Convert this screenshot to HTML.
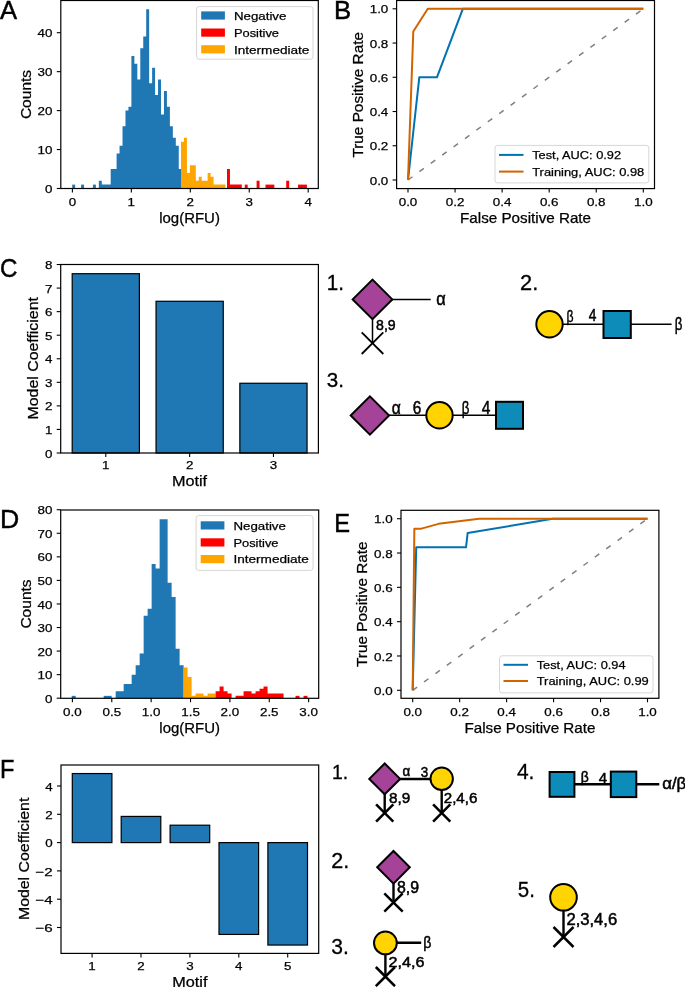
<!DOCTYPE html>
<html><head><meta charset="utf-8"><style>
html,body{margin:0;padding:0;background:#fff;width:685px;height:987px;overflow:hidden}
svg{display:block;font-family:"Liberation Sans",sans-serif;will-change:transform;filter:blur(0.3px)}
</style></head><body>
<svg width="685" height="987" viewBox="0 0 685 987">
<rect x="0" y="0" width="685" height="987" fill="#fff"/>
<text x="0.00" y="19.00" font-size="25.0" text-anchor="start" textLength="17.10" lengthAdjust="spacingAndGlyphs" fill="#000" stroke="#000" stroke-width="0.45" >A</text>
<path d="M72.20,188.50 L72.20,184.60 L75.16,184.60 L75.16,188.50 Z" fill="#1f77b4"/>
<path d="M81.08,188.50 L81.08,184.60 L84.04,184.60 L84.04,188.50 Z" fill="#1f77b4"/>
<path d="M92.92,188.50 L92.92,184.60 L95.88,184.60 L95.88,188.50 Z" fill="#1f77b4"/>
<path d="M98.84,188.50 L98.84,180.71 L101.80,180.71 L101.80,184.60 L104.76,184.60 L104.76,184.60 L107.72,184.60 L107.72,184.60 L110.68,184.60 L110.68,169.03 L113.64,169.03 L113.64,169.03 L116.60,169.03 L116.60,153.44 L119.56,153.44 L119.56,145.66 L122.52,145.66 L122.52,126.18 L125.48,126.18 L125.48,110.60 L128.44,110.60 L128.44,106.70 L131.40,106.70 L131.40,56.07 L134.36,56.07 L134.36,63.86 L137.32,63.86 L137.32,79.44 L140.28,79.44 L140.28,48.28 L143.24,48.28 L143.24,36.59 L146.20,36.59 L146.20,9.33 L149.16,9.33 L149.16,83.33 L152.12,83.33 L152.12,67.75 L155.08,67.75 L155.08,95.02 L158.04,95.02 L158.04,79.44 L161.00,79.44 L161.00,114.50 L163.96,114.50 L163.96,91.12 L166.92,91.12 L166.92,106.70 L169.88,106.70 L169.88,126.18 L172.84,126.18 L172.84,137.87 L175.80,137.87 L175.80,145.66 L178.76,145.66 L178.76,169.03 L181.72,169.03 L181.72,188.50 Z" fill="#1f77b4"/>
<path d="M181.00,188.50 L181.00,141.76 L183.96,141.76 L183.96,137.87 L186.92,137.87 L186.92,172.92 L189.88,172.92 L189.88,165.13 L192.84,165.13 L192.84,165.13 L195.80,165.13 L195.80,180.71 L198.76,180.71 L198.76,176.81 L201.72,176.81 L201.72,180.71 L204.68,180.71 L204.68,180.71 L207.64,180.71 L207.64,172.92 L210.60,172.92 L210.60,176.81 L213.56,176.81 L213.56,184.60 L216.52,184.60 L216.52,184.60 L219.48,184.60 L219.48,184.60 L222.44,184.60 L222.44,184.60 L225.40,184.60 L225.40,188.50 Z" fill="#ffa500"/>
<path d="M227.00,188.50 L227.00,169.03 L229.96,169.03 L229.96,184.60 L232.92,184.60 L232.92,184.60 L235.88,184.60 L235.88,184.60 L238.84,184.60 L238.84,184.60 L241.80,184.60 L241.80,188.50 Z" fill="#ff0000"/>
<path d="M244.76,188.50 L244.76,184.60 L247.72,184.60 L247.72,188.50 Z" fill="#ff0000"/>
<path d="M256.60,188.50 L256.60,180.71 L259.56,180.71 L259.56,188.50 Z" fill="#ff0000"/>
<path d="M265.48,188.50 L265.48,184.60 L268.44,184.60 L268.44,184.60 L271.40,184.60 L271.40,184.60 L274.36,184.60 L274.36,188.50 Z" fill="#ff0000"/>
<path d="M286.20,188.50 L286.20,180.71 L289.16,180.71 L289.16,188.50 Z" fill="#ff0000"/>
<path d="M298.04,188.50 L298.04,184.60 L301.00,184.60 L301.00,184.60 L303.96,184.60 L303.96,184.60 L306.92,184.60 L306.92,188.50 Z" fill="#ff0000"/>
<rect x="196.60" y="6.60" width="116.40" height="52.60" rx="2.5" fill="#fff" fill-opacity="0.8" stroke="#d6d6d6" stroke-width="1"/>
<rect x="201.20" y="11.40" width="23.7" height="8.2" fill="#1f77b4"/>
<text x="233.90" y="19.80" font-size="11.7" text-anchor="start" textLength="52.51" lengthAdjust="spacingAndGlyphs" fill="#000" stroke="#000" stroke-width="0.25" >Negative</text>
<rect x="201.20" y="28.50" width="23.7" height="8.2" fill="#ff0000"/>
<text x="233.90" y="36.90" font-size="11.7" text-anchor="start" textLength="45.10" lengthAdjust="spacingAndGlyphs" fill="#000" stroke="#000" stroke-width="0.25" >Positive</text>
<rect x="201.20" y="45.20" width="23.7" height="8.2" fill="#ffa500"/>
<text x="233.90" y="53.60" font-size="11.7" text-anchor="start" textLength="75.49" lengthAdjust="spacingAndGlyphs" fill="#000" stroke="#000" stroke-width="0.25" >Intermediate</text>
<rect x="60.80" y="0.50" width="257.50" height="188.00" fill="none" stroke="#000" stroke-width="1.2"/>
<line x1="56.80" y1="188.50" x2="60.80" y2="188.50" stroke="#000" stroke-width="1.1"/>
<text x="52.50" y="193.10" font-size="11.7" text-anchor="end" textLength="7.44" lengthAdjust="spacingAndGlyphs" fill="#000" stroke="#000" stroke-width="0.25" >0</text>
<line x1="56.80" y1="149.55" x2="60.80" y2="149.55" stroke="#000" stroke-width="1.1"/>
<text x="52.50" y="154.15" font-size="11.7" text-anchor="end" textLength="14.89" lengthAdjust="spacingAndGlyphs" fill="#000" stroke="#000" stroke-width="0.25" >10</text>
<line x1="56.80" y1="110.60" x2="60.80" y2="110.60" stroke="#000" stroke-width="1.1"/>
<text x="52.50" y="115.20" font-size="11.7" text-anchor="end" textLength="14.89" lengthAdjust="spacingAndGlyphs" fill="#000" stroke="#000" stroke-width="0.25" >20</text>
<line x1="56.80" y1="71.65" x2="60.80" y2="71.65" stroke="#000" stroke-width="1.1"/>
<text x="52.50" y="76.25" font-size="11.7" text-anchor="end" textLength="14.89" lengthAdjust="spacingAndGlyphs" fill="#000" stroke="#000" stroke-width="0.25" >30</text>
<line x1="56.80" y1="32.70" x2="60.80" y2="32.70" stroke="#000" stroke-width="1.1"/>
<text x="52.50" y="37.30" font-size="11.7" text-anchor="end" textLength="14.89" lengthAdjust="spacingAndGlyphs" fill="#000" stroke="#000" stroke-width="0.25" >40</text>
<line x1="72.40" y1="188.50" x2="72.40" y2="192.50" stroke="#000" stroke-width="1.1"/>
<text x="72.40" y="205.90" font-size="11.7" text-anchor="middle" textLength="7.44" lengthAdjust="spacingAndGlyphs" fill="#000" stroke="#000" stroke-width="0.25" >0</text>
<line x1="131.35" y1="188.50" x2="131.35" y2="192.50" stroke="#000" stroke-width="1.1"/>
<text x="131.35" y="205.90" font-size="11.7" text-anchor="middle" textLength="7.44" lengthAdjust="spacingAndGlyphs" fill="#000" stroke="#000" stroke-width="0.25" >1</text>
<line x1="190.30" y1="188.50" x2="190.30" y2="192.50" stroke="#000" stroke-width="1.1"/>
<text x="190.30" y="205.90" font-size="11.7" text-anchor="middle" textLength="7.44" lengthAdjust="spacingAndGlyphs" fill="#000" stroke="#000" stroke-width="0.25" >2</text>
<line x1="249.25" y1="188.50" x2="249.25" y2="192.50" stroke="#000" stroke-width="1.1"/>
<text x="249.25" y="205.90" font-size="11.7" text-anchor="middle" textLength="7.44" lengthAdjust="spacingAndGlyphs" fill="#000" stroke="#000" stroke-width="0.25" >3</text>
<line x1="308.20" y1="188.50" x2="308.20" y2="192.50" stroke="#000" stroke-width="1.1"/>
<text x="308.20" y="205.90" font-size="11.7" text-anchor="middle" textLength="7.44" lengthAdjust="spacingAndGlyphs" fill="#000" stroke="#000" stroke-width="0.25" >4</text>
<text x="189.55" y="222.50" font-size="14.1" text-anchor="middle" textLength="60.72" lengthAdjust="spacingAndGlyphs" fill="#000" stroke="#000" stroke-width="0.25" >log(RFU)</text>
<text transform="translate(31.30,94.50) rotate(-90)" x="0" y="0" font-size="14.1" text-anchor="middle" textLength="49.22" lengthAdjust="spacingAndGlyphs" stroke="#000" stroke-width="0.25">Counts</text>
<text x="334.00" y="19.00" font-size="25.0" text-anchor="start" textLength="17.15" lengthAdjust="spacingAndGlyphs" fill="#000" stroke="#000" stroke-width="0.45" >B</text>
<polyline points="408.00,180.00 643.30,8.80" fill="none" stroke="#808080" stroke-width="1.5" stroke-linejoin="round" stroke-linecap="butt" stroke-dasharray="5.5,8.6"/>
<polyline points="408.00,180.00 419.29,77.28 436.94,77.28 462.82,8.80 643.30,8.80" fill="none" stroke="#0072b2" stroke-width="2" stroke-linejoin="round" stroke-linecap="butt"/>
<polyline points="408.00,180.00 413.29,31.57 427.77,8.80 643.30,8.80" fill="none" stroke="#d26400" stroke-width="2" stroke-linejoin="round" stroke-linecap="butt"/>
<rect x="495.00" y="145.40" width="153.80" height="37.50" rx="2.5" fill="#fff" fill-opacity="0.8" stroke="#d6d6d6" stroke-width="1"/>
<line x1="499.00" y1="154.90" x2="523.50" y2="154.90" stroke="#0072b2" stroke-width="2"/>
<text x="532.20" y="159.10" font-size="11.7" text-anchor="start" textLength="88.92" lengthAdjust="spacingAndGlyphs" fill="#000" stroke="#000" stroke-width="0.25" >Test, AUC: 0.92</text>
<line x1="499.00" y1="171.60" x2="523.50" y2="171.60" stroke="#d26400" stroke-width="2"/>
<text x="532.20" y="175.80" font-size="11.7" text-anchor="start" textLength="112.05" lengthAdjust="spacingAndGlyphs" fill="#000" stroke="#000" stroke-width="0.25" >Training, AUC: 0.98</text>
<rect x="396.60" y="0.50" width="257.90" height="188.10" fill="none" stroke="#000" stroke-width="1.2"/>
<line x1="392.60" y1="180.00" x2="396.60" y2="180.00" stroke="#000" stroke-width="1.1"/>
<text x="388.30" y="184.60" font-size="11.7" text-anchor="end" textLength="18.61" lengthAdjust="spacingAndGlyphs" fill="#000" stroke="#000" stroke-width="0.25" >0.0</text>
<line x1="392.60" y1="145.76" x2="396.60" y2="145.76" stroke="#000" stroke-width="1.1"/>
<text x="388.30" y="150.36" font-size="11.7" text-anchor="end" textLength="18.61" lengthAdjust="spacingAndGlyphs" fill="#000" stroke="#000" stroke-width="0.25" >0.2</text>
<line x1="392.60" y1="111.52" x2="396.60" y2="111.52" stroke="#000" stroke-width="1.1"/>
<text x="388.30" y="116.12" font-size="11.7" text-anchor="end" textLength="18.61" lengthAdjust="spacingAndGlyphs" fill="#000" stroke="#000" stroke-width="0.25" >0.4</text>
<line x1="392.60" y1="77.28" x2="396.60" y2="77.28" stroke="#000" stroke-width="1.1"/>
<text x="388.30" y="81.88" font-size="11.7" text-anchor="end" textLength="18.61" lengthAdjust="spacingAndGlyphs" fill="#000" stroke="#000" stroke-width="0.25" >0.6</text>
<line x1="392.60" y1="43.04" x2="396.60" y2="43.04" stroke="#000" stroke-width="1.1"/>
<text x="388.30" y="47.64" font-size="11.7" text-anchor="end" textLength="18.61" lengthAdjust="spacingAndGlyphs" fill="#000" stroke="#000" stroke-width="0.25" >0.8</text>
<line x1="392.60" y1="8.80" x2="396.60" y2="8.80" stroke="#000" stroke-width="1.1"/>
<text x="388.30" y="13.40" font-size="11.7" text-anchor="end" textLength="18.61" lengthAdjust="spacingAndGlyphs" fill="#000" stroke="#000" stroke-width="0.25" >1.0</text>
<line x1="408.00" y1="188.60" x2="408.00" y2="192.60" stroke="#000" stroke-width="1.1"/>
<text x="408.00" y="206.00" font-size="11.7" text-anchor="middle" textLength="18.61" lengthAdjust="spacingAndGlyphs" fill="#000" stroke="#000" stroke-width="0.25" >0.0</text>
<line x1="455.06" y1="188.60" x2="455.06" y2="192.60" stroke="#000" stroke-width="1.1"/>
<text x="455.06" y="206.00" font-size="11.7" text-anchor="middle" textLength="18.61" lengthAdjust="spacingAndGlyphs" fill="#000" stroke="#000" stroke-width="0.25" >0.2</text>
<line x1="502.12" y1="188.60" x2="502.12" y2="192.60" stroke="#000" stroke-width="1.1"/>
<text x="502.12" y="206.00" font-size="11.7" text-anchor="middle" textLength="18.61" lengthAdjust="spacingAndGlyphs" fill="#000" stroke="#000" stroke-width="0.25" >0.4</text>
<line x1="549.18" y1="188.60" x2="549.18" y2="192.60" stroke="#000" stroke-width="1.1"/>
<text x="549.18" y="206.00" font-size="11.7" text-anchor="middle" textLength="18.61" lengthAdjust="spacingAndGlyphs" fill="#000" stroke="#000" stroke-width="0.25" >0.6</text>
<line x1="596.24" y1="188.60" x2="596.24" y2="192.60" stroke="#000" stroke-width="1.1"/>
<text x="596.24" y="206.00" font-size="11.7" text-anchor="middle" textLength="18.61" lengthAdjust="spacingAndGlyphs" fill="#000" stroke="#000" stroke-width="0.25" >0.8</text>
<line x1="643.30" y1="188.60" x2="643.30" y2="192.60" stroke="#000" stroke-width="1.1"/>
<text x="643.30" y="206.00" font-size="11.7" text-anchor="middle" textLength="18.61" lengthAdjust="spacingAndGlyphs" fill="#000" stroke="#000" stroke-width="0.25" >1.0</text>
<text x="525.55" y="222.90" font-size="14.1" text-anchor="middle" textLength="131.04" lengthAdjust="spacingAndGlyphs" fill="#000" stroke="#000" stroke-width="0.25" >False Positive Rate</text>
<text transform="translate(363.10,94.80) rotate(-90)" x="0" y="0" font-size="14.1" text-anchor="middle" textLength="125.60" lengthAdjust="spacingAndGlyphs" stroke="#000" stroke-width="0.25">True Positive Rate</text>
<text x="0.00" y="277.40" font-size="25.0" text-anchor="start" textLength="17.46" lengthAdjust="spacingAndGlyphs" fill="#000" stroke="#000" stroke-width="0.45" >C</text>
<rect x="72.20" y="273.71" width="67.2" height="179.29" fill="#1f77b4" stroke="#000" stroke-width="1.2"/>
<rect x="156.05" y="301.27" width="67.2" height="151.73" fill="#1f77b4" stroke="#000" stroke-width="1.2"/>
<rect x="239.85" y="383.26" width="67.2" height="69.74" fill="#1f77b4" stroke="#000" stroke-width="1.2"/>
<rect x="60.70" y="264.50" width="257.70" height="188.50" fill="none" stroke="#000" stroke-width="1.2"/>
<line x1="56.70" y1="453.00" x2="60.70" y2="453.00" stroke="#000" stroke-width="1.1"/>
<text x="52.40" y="457.60" font-size="11.7" text-anchor="end" textLength="7.44" lengthAdjust="spacingAndGlyphs" fill="#000" stroke="#000" stroke-width="0.25" >0</text>
<line x1="56.70" y1="429.44" x2="60.70" y2="429.44" stroke="#000" stroke-width="1.1"/>
<text x="52.40" y="434.04" font-size="11.7" text-anchor="end" textLength="7.44" lengthAdjust="spacingAndGlyphs" fill="#000" stroke="#000" stroke-width="0.25" >1</text>
<line x1="56.70" y1="405.88" x2="60.70" y2="405.88" stroke="#000" stroke-width="1.1"/>
<text x="52.40" y="410.48" font-size="11.7" text-anchor="end" textLength="7.44" lengthAdjust="spacingAndGlyphs" fill="#000" stroke="#000" stroke-width="0.25" >2</text>
<line x1="56.70" y1="382.32" x2="60.70" y2="382.32" stroke="#000" stroke-width="1.1"/>
<text x="52.40" y="386.92" font-size="11.7" text-anchor="end" textLength="7.44" lengthAdjust="spacingAndGlyphs" fill="#000" stroke="#000" stroke-width="0.25" >3</text>
<line x1="56.70" y1="358.76" x2="60.70" y2="358.76" stroke="#000" stroke-width="1.1"/>
<text x="52.40" y="363.36" font-size="11.7" text-anchor="end" textLength="7.44" lengthAdjust="spacingAndGlyphs" fill="#000" stroke="#000" stroke-width="0.25" >4</text>
<line x1="56.70" y1="335.20" x2="60.70" y2="335.20" stroke="#000" stroke-width="1.1"/>
<text x="52.40" y="339.80" font-size="11.7" text-anchor="end" textLength="7.44" lengthAdjust="spacingAndGlyphs" fill="#000" stroke="#000" stroke-width="0.25" >5</text>
<line x1="56.70" y1="311.64" x2="60.70" y2="311.64" stroke="#000" stroke-width="1.1"/>
<text x="52.40" y="316.24" font-size="11.7" text-anchor="end" textLength="7.44" lengthAdjust="spacingAndGlyphs" fill="#000" stroke="#000" stroke-width="0.25" >6</text>
<line x1="56.70" y1="288.08" x2="60.70" y2="288.08" stroke="#000" stroke-width="1.1"/>
<text x="52.40" y="292.68" font-size="11.7" text-anchor="end" textLength="7.44" lengthAdjust="spacingAndGlyphs" fill="#000" stroke="#000" stroke-width="0.25" >7</text>
<line x1="56.70" y1="264.52" x2="60.70" y2="264.52" stroke="#000" stroke-width="1.1"/>
<text x="52.40" y="269.12" font-size="11.7" text-anchor="end" textLength="7.44" lengthAdjust="spacingAndGlyphs" fill="#000" stroke="#000" stroke-width="0.25" >8</text>
<line x1="105.80" y1="453.00" x2="105.80" y2="457.00" stroke="#000" stroke-width="1.1"/>
<text x="105.80" y="469.20" font-size="11.7" text-anchor="middle" textLength="7.44" lengthAdjust="spacingAndGlyphs" fill="#000" stroke="#000" stroke-width="0.25" >1</text>
<line x1="189.65" y1="453.00" x2="189.65" y2="457.00" stroke="#000" stroke-width="1.1"/>
<text x="189.65" y="469.20" font-size="11.7" text-anchor="middle" textLength="7.44" lengthAdjust="spacingAndGlyphs" fill="#000" stroke="#000" stroke-width="0.25" >2</text>
<line x1="273.45" y1="453.00" x2="273.45" y2="457.00" stroke="#000" stroke-width="1.1"/>
<text x="273.45" y="469.20" font-size="11.7" text-anchor="middle" textLength="7.44" lengthAdjust="spacingAndGlyphs" fill="#000" stroke="#000" stroke-width="0.25" >3</text>
<text x="189.55" y="486.00" font-size="14.1" text-anchor="middle" textLength="35.20" lengthAdjust="spacingAndGlyphs" fill="#000" stroke="#000" stroke-width="0.25" >Motif</text>
<text transform="translate(38.40,358.30) rotate(-90)" x="0" y="0" font-size="14.1" text-anchor="middle" textLength="122.41" lengthAdjust="spacingAndGlyphs" stroke="#000" stroke-width="0.25">Model Coefficient</text>
<text x="0.00" y="528.40" font-size="25.0" text-anchor="start" textLength="19.25" lengthAdjust="spacingAndGlyphs" fill="#000" stroke="#000" stroke-width="0.45" >D</text>
<path d="M71.70,698.20 L71.70,695.84 L75.70,695.84 L75.70,698.20 Z" fill="#1f77b4"/>
<path d="M103.68,698.20 L103.68,695.84 L107.67,695.84 L107.67,695.84 L111.67,695.84 L111.67,698.20 Z" fill="#1f77b4"/>
<path d="M115.67,698.20 L115.67,691.13 L119.66,691.13 L119.66,691.13 L123.66,691.13 L123.66,684.06 L127.66,684.06 L127.66,684.06 L131.66,684.06 L131.66,674.64 L135.65,674.64 L135.65,665.22 L139.65,665.22 L139.65,653.44 L143.65,653.44 L143.65,615.74 L147.64,615.74 L147.64,608.67 L151.64,608.67 L151.64,563.91 L155.64,563.91 L155.64,568.62 L159.63,568.62 L159.63,519.14 L163.63,519.14 L163.63,519.14 L167.63,519.14 L167.63,582.76 L171.62,582.76 L171.62,596.89 L175.62,596.89 L175.62,648.72 L179.62,648.72 L179.62,665.22 L183.62,665.22 L183.62,698.20 Z" fill="#1f77b4"/>
<path d="M183.62,698.20 L183.62,667.57 L187.61,667.57 L187.61,677.00 L191.61,677.00 L191.61,695.84 L195.61,695.84 L195.61,693.49 L199.60,693.49 L199.60,693.49 L203.60,693.49 L203.60,695.84 L207.60,695.84 L207.60,693.49 L211.59,693.49 L211.59,693.49 L215.59,693.49 L215.59,698.20 Z" fill="#ffa500"/>
<path d="M215.59,698.20 L215.59,691.13 L219.59,691.13 L219.59,686.42 L223.59,686.42 L223.59,691.13 L227.58,691.13 L227.58,693.49 L231.58,693.49 L231.58,698.20 Z" fill="#ff0000"/>
<path d="M235.58,698.20 L235.58,695.84 L239.57,695.84 L239.57,695.84 L243.57,695.84 L243.57,691.13 L247.57,691.13 L247.57,691.13 L251.56,691.13 L251.56,693.49 L255.56,693.49 L255.56,691.13 L259.56,691.13 L259.56,688.78 L263.56,688.78 L263.56,686.42 L267.55,686.42 L267.55,693.49 L271.55,693.49 L271.55,693.49 L275.55,693.49 L275.55,693.49 L279.54,693.49 L279.54,693.49 L283.54,693.49 L283.54,698.20 Z" fill="#ff0000"/>
<path d="M295.53,698.20 L295.53,695.84 L299.53,695.84 L299.53,698.20 Z" fill="#ff0000"/>
<path d="M303.53,698.20 L303.53,695.84 L307.52,695.84 L307.52,698.20 Z" fill="#ff0000"/>
<rect x="196.10" y="515.60" width="116.90" height="54.80" rx="2.5" fill="#fff" fill-opacity="0.8" stroke="#d6d6d6" stroke-width="1"/>
<rect x="200.70" y="521.30" width="23.7" height="8.2" fill="#1f77b4"/>
<text x="233.40" y="529.70" font-size="11.7" text-anchor="start" textLength="52.51" lengthAdjust="spacingAndGlyphs" fill="#000" stroke="#000" stroke-width="0.25" >Negative</text>
<rect x="200.70" y="538.30" width="23.7" height="8.2" fill="#ff0000"/>
<text x="233.40" y="546.70" font-size="11.7" text-anchor="start" textLength="45.10" lengthAdjust="spacingAndGlyphs" fill="#000" stroke="#000" stroke-width="0.25" >Positive</text>
<rect x="200.70" y="555.00" width="23.7" height="8.2" fill="#ffa500"/>
<text x="233.40" y="563.40" font-size="11.7" text-anchor="start" textLength="75.49" lengthAdjust="spacingAndGlyphs" fill="#000" stroke="#000" stroke-width="0.25" >Intermediate</text>
<rect x="60.70" y="510.00" width="258.00" height="188.30" fill="none" stroke="#000" stroke-width="1.2"/>
<line x1="56.70" y1="698.20" x2="60.70" y2="698.20" stroke="#000" stroke-width="1.1"/>
<text x="52.40" y="702.80" font-size="11.7" text-anchor="end" textLength="7.44" lengthAdjust="spacingAndGlyphs" fill="#000" stroke="#000" stroke-width="0.25" >0</text>
<line x1="56.70" y1="674.64" x2="60.70" y2="674.64" stroke="#000" stroke-width="1.1"/>
<text x="52.40" y="679.24" font-size="11.7" text-anchor="end" textLength="14.89" lengthAdjust="spacingAndGlyphs" fill="#000" stroke="#000" stroke-width="0.25" >10</text>
<line x1="56.70" y1="651.08" x2="60.70" y2="651.08" stroke="#000" stroke-width="1.1"/>
<text x="52.40" y="655.68" font-size="11.7" text-anchor="end" textLength="14.89" lengthAdjust="spacingAndGlyphs" fill="#000" stroke="#000" stroke-width="0.25" >20</text>
<line x1="56.70" y1="627.52" x2="60.70" y2="627.52" stroke="#000" stroke-width="1.1"/>
<text x="52.40" y="632.12" font-size="11.7" text-anchor="end" textLength="14.89" lengthAdjust="spacingAndGlyphs" fill="#000" stroke="#000" stroke-width="0.25" >30</text>
<line x1="56.70" y1="603.96" x2="60.70" y2="603.96" stroke="#000" stroke-width="1.1"/>
<text x="52.40" y="608.56" font-size="11.7" text-anchor="end" textLength="14.89" lengthAdjust="spacingAndGlyphs" fill="#000" stroke="#000" stroke-width="0.25" >40</text>
<line x1="56.70" y1="580.40" x2="60.70" y2="580.40" stroke="#000" stroke-width="1.1"/>
<text x="52.40" y="585.00" font-size="11.7" text-anchor="end" textLength="14.89" lengthAdjust="spacingAndGlyphs" fill="#000" stroke="#000" stroke-width="0.25" >50</text>
<line x1="56.70" y1="556.84" x2="60.70" y2="556.84" stroke="#000" stroke-width="1.1"/>
<text x="52.40" y="561.44" font-size="11.7" text-anchor="end" textLength="14.89" lengthAdjust="spacingAndGlyphs" fill="#000" stroke="#000" stroke-width="0.25" >60</text>
<line x1="56.70" y1="533.28" x2="60.70" y2="533.28" stroke="#000" stroke-width="1.1"/>
<text x="52.40" y="537.88" font-size="11.7" text-anchor="end" textLength="14.89" lengthAdjust="spacingAndGlyphs" fill="#000" stroke="#000" stroke-width="0.25" >70</text>
<line x1="56.70" y1="509.72" x2="60.70" y2="509.72" stroke="#000" stroke-width="1.1"/>
<text x="52.40" y="514.32" font-size="11.7" text-anchor="end" textLength="14.89" lengthAdjust="spacingAndGlyphs" fill="#000" stroke="#000" stroke-width="0.25" >80</text>
<line x1="72.40" y1="698.30" x2="72.40" y2="702.30" stroke="#000" stroke-width="1.1"/>
<text x="72.40" y="715.70" font-size="11.7" text-anchor="middle" textLength="18.61" lengthAdjust="spacingAndGlyphs" fill="#000" stroke="#000" stroke-width="0.25" >0.0</text>
<line x1="111.78" y1="698.30" x2="111.78" y2="702.30" stroke="#000" stroke-width="1.1"/>
<text x="111.78" y="715.70" font-size="11.7" text-anchor="middle" textLength="18.61" lengthAdjust="spacingAndGlyphs" fill="#000" stroke="#000" stroke-width="0.25" >0.5</text>
<line x1="151.15" y1="698.30" x2="151.15" y2="702.30" stroke="#000" stroke-width="1.1"/>
<text x="151.15" y="715.70" font-size="11.7" text-anchor="middle" textLength="18.61" lengthAdjust="spacingAndGlyphs" fill="#000" stroke="#000" stroke-width="0.25" >1.0</text>
<line x1="190.53" y1="698.30" x2="190.53" y2="702.30" stroke="#000" stroke-width="1.1"/>
<text x="190.53" y="715.70" font-size="11.7" text-anchor="middle" textLength="18.61" lengthAdjust="spacingAndGlyphs" fill="#000" stroke="#000" stroke-width="0.25" >1.5</text>
<line x1="229.90" y1="698.30" x2="229.90" y2="702.30" stroke="#000" stroke-width="1.1"/>
<text x="229.90" y="715.70" font-size="11.7" text-anchor="middle" textLength="18.61" lengthAdjust="spacingAndGlyphs" fill="#000" stroke="#000" stroke-width="0.25" >2.0</text>
<line x1="269.27" y1="698.30" x2="269.27" y2="702.30" stroke="#000" stroke-width="1.1"/>
<text x="269.27" y="715.70" font-size="11.7" text-anchor="middle" textLength="18.61" lengthAdjust="spacingAndGlyphs" fill="#000" stroke="#000" stroke-width="0.25" >2.5</text>
<line x1="308.65" y1="698.30" x2="308.65" y2="702.30" stroke="#000" stroke-width="1.1"/>
<text x="308.65" y="715.70" font-size="11.7" text-anchor="middle" textLength="18.61" lengthAdjust="spacingAndGlyphs" fill="#000" stroke="#000" stroke-width="0.25" >3.0</text>
<text x="189.70" y="733.10" font-size="14.1" text-anchor="middle" textLength="60.72" lengthAdjust="spacingAndGlyphs" fill="#000" stroke="#000" stroke-width="0.25" >log(RFU)</text>
<text transform="translate(31.30,604.00) rotate(-90)" x="0" y="0" font-size="14.1" text-anchor="middle" textLength="49.22" lengthAdjust="spacingAndGlyphs" stroke="#000" stroke-width="0.25">Counts</text>
<text x="334.20" y="532.00" font-size="25.0" text-anchor="start" textLength="15.80" lengthAdjust="spacingAndGlyphs" fill="#000" stroke="#000" stroke-width="0.45" >E</text>
<polyline points="412.70,690.30 647.50,518.70" fill="none" stroke="#808080" stroke-width="1.5" stroke-linejoin="round" stroke-linecap="butt" stroke-dasharray="5.5,8.6"/>
<polyline points="412.70,690.30 416.22,547.36 466.00,547.36 467.64,533.11 552.64,518.70 647.50,518.70" fill="none" stroke="#0072b2" stroke-width="2" stroke-linejoin="round" stroke-linecap="butt"/>
<polyline points="412.70,690.30 414.34,528.65 421.39,528.65 438.53,523.85 479.15,518.70 647.50,518.70" fill="none" stroke="#d26400" stroke-width="2" stroke-linejoin="round" stroke-linecap="butt"/>
<rect x="499.50" y="655.80" width="153.50" height="37.10" rx="2.5" fill="#fff" fill-opacity="0.8" stroke="#d6d6d6" stroke-width="1"/>
<line x1="503.50" y1="664.80" x2="528.00" y2="664.80" stroke="#0072b2" stroke-width="2"/>
<text x="536.70" y="669.00" font-size="11.7" text-anchor="start" textLength="88.92" lengthAdjust="spacingAndGlyphs" fill="#000" stroke="#000" stroke-width="0.25" >Test, AUC: 0.94</text>
<line x1="503.50" y1="681.00" x2="528.00" y2="681.00" stroke="#d26400" stroke-width="2"/>
<text x="536.70" y="685.20" font-size="11.7" text-anchor="start" textLength="112.05" lengthAdjust="spacingAndGlyphs" fill="#000" stroke="#000" stroke-width="0.25" >Training, AUC: 0.99</text>
<rect x="401.00" y="510.30" width="257.90" height="188.00" fill="none" stroke="#000" stroke-width="1.2"/>
<line x1="397.00" y1="690.30" x2="401.00" y2="690.30" stroke="#000" stroke-width="1.1"/>
<text x="392.70" y="694.90" font-size="11.7" text-anchor="end" textLength="18.61" lengthAdjust="spacingAndGlyphs" fill="#000" stroke="#000" stroke-width="0.25" >0.0</text>
<line x1="397.00" y1="655.98" x2="401.00" y2="655.98" stroke="#000" stroke-width="1.1"/>
<text x="392.70" y="660.58" font-size="11.7" text-anchor="end" textLength="18.61" lengthAdjust="spacingAndGlyphs" fill="#000" stroke="#000" stroke-width="0.25" >0.2</text>
<line x1="397.00" y1="621.66" x2="401.00" y2="621.66" stroke="#000" stroke-width="1.1"/>
<text x="392.70" y="626.26" font-size="11.7" text-anchor="end" textLength="18.61" lengthAdjust="spacingAndGlyphs" fill="#000" stroke="#000" stroke-width="0.25" >0.4</text>
<line x1="397.00" y1="587.34" x2="401.00" y2="587.34" stroke="#000" stroke-width="1.1"/>
<text x="392.70" y="591.94" font-size="11.7" text-anchor="end" textLength="18.61" lengthAdjust="spacingAndGlyphs" fill="#000" stroke="#000" stroke-width="0.25" >0.6</text>
<line x1="397.00" y1="553.02" x2="401.00" y2="553.02" stroke="#000" stroke-width="1.1"/>
<text x="392.70" y="557.62" font-size="11.7" text-anchor="end" textLength="18.61" lengthAdjust="spacingAndGlyphs" fill="#000" stroke="#000" stroke-width="0.25" >0.8</text>
<line x1="397.00" y1="518.70" x2="401.00" y2="518.70" stroke="#000" stroke-width="1.1"/>
<text x="392.70" y="523.30" font-size="11.7" text-anchor="end" textLength="18.61" lengthAdjust="spacingAndGlyphs" fill="#000" stroke="#000" stroke-width="0.25" >1.0</text>
<line x1="412.70" y1="698.30" x2="412.70" y2="702.30" stroke="#000" stroke-width="1.1"/>
<text x="412.70" y="715.70" font-size="11.7" text-anchor="middle" textLength="18.61" lengthAdjust="spacingAndGlyphs" fill="#000" stroke="#000" stroke-width="0.25" >0.0</text>
<line x1="459.66" y1="698.30" x2="459.66" y2="702.30" stroke="#000" stroke-width="1.1"/>
<text x="459.66" y="715.70" font-size="11.7" text-anchor="middle" textLength="18.61" lengthAdjust="spacingAndGlyphs" fill="#000" stroke="#000" stroke-width="0.25" >0.2</text>
<line x1="506.62" y1="698.30" x2="506.62" y2="702.30" stroke="#000" stroke-width="1.1"/>
<text x="506.62" y="715.70" font-size="11.7" text-anchor="middle" textLength="18.61" lengthAdjust="spacingAndGlyphs" fill="#000" stroke="#000" stroke-width="0.25" >0.4</text>
<line x1="553.58" y1="698.30" x2="553.58" y2="702.30" stroke="#000" stroke-width="1.1"/>
<text x="553.58" y="715.70" font-size="11.7" text-anchor="middle" textLength="18.61" lengthAdjust="spacingAndGlyphs" fill="#000" stroke="#000" stroke-width="0.25" >0.6</text>
<line x1="600.54" y1="698.30" x2="600.54" y2="702.30" stroke="#000" stroke-width="1.1"/>
<text x="600.54" y="715.70" font-size="11.7" text-anchor="middle" textLength="18.61" lengthAdjust="spacingAndGlyphs" fill="#000" stroke="#000" stroke-width="0.25" >0.8</text>
<line x1="647.50" y1="698.30" x2="647.50" y2="702.30" stroke="#000" stroke-width="1.1"/>
<text x="647.50" y="715.70" font-size="11.7" text-anchor="middle" textLength="18.61" lengthAdjust="spacingAndGlyphs" fill="#000" stroke="#000" stroke-width="0.25" >1.0</text>
<text x="529.95" y="732.60" font-size="14.1" text-anchor="middle" textLength="131.04" lengthAdjust="spacingAndGlyphs" fill="#000" stroke="#000" stroke-width="0.25" >False Positive Rate</text>
<text transform="translate(367.00,604.20) rotate(-90)" x="0" y="0" font-size="14.1" text-anchor="middle" textLength="125.60" lengthAdjust="spacingAndGlyphs" stroke="#000" stroke-width="0.25">True Positive Rate</text>
<text x="0.00" y="778.20" font-size="25.0" text-anchor="start" textLength="14.38" lengthAdjust="spacingAndGlyphs" fill="#000" stroke="#000" stroke-width="0.45" >F</text>
<rect x="72.30" y="773.55" width="39.6" height="69.05" fill="#1f77b4" stroke="#000" stroke-width="1.2"/>
<rect x="121.20" y="816.42" width="39.6" height="26.18" fill="#1f77b4" stroke="#000" stroke-width="1.2"/>
<rect x="170.10" y="825.20" width="39.6" height="17.40" fill="#1f77b4" stroke="#000" stroke-width="1.2"/>
<rect x="219.00" y="842.60" width="39.6" height="91.83" fill="#1f77b4" stroke="#000" stroke-width="1.2"/>
<rect x="267.90" y="842.60" width="39.6" height="102.45" fill="#1f77b4" stroke="#000" stroke-width="1.2"/>
<rect x="61.00" y="765.00" width="257.70" height="188.40" fill="none" stroke="#000" stroke-width="1.2"/>
<line x1="57.00" y1="927.50" x2="61.00" y2="927.50" stroke="#000" stroke-width="1.1"/>
<text x="52.70" y="932.10" font-size="11.7" text-anchor="end" textLength="17.25" lengthAdjust="spacingAndGlyphs" fill="#000" stroke="#000" stroke-width="0.25" >−6</text>
<line x1="57.00" y1="899.20" x2="61.00" y2="899.20" stroke="#000" stroke-width="1.1"/>
<text x="52.70" y="903.80" font-size="11.7" text-anchor="end" textLength="17.25" lengthAdjust="spacingAndGlyphs" fill="#000" stroke="#000" stroke-width="0.25" >−4</text>
<line x1="57.00" y1="870.90" x2="61.00" y2="870.90" stroke="#000" stroke-width="1.1"/>
<text x="52.70" y="875.50" font-size="11.7" text-anchor="end" textLength="17.25" lengthAdjust="spacingAndGlyphs" fill="#000" stroke="#000" stroke-width="0.25" >−2</text>
<line x1="57.00" y1="842.60" x2="61.00" y2="842.60" stroke="#000" stroke-width="1.1"/>
<text x="52.70" y="847.20" font-size="11.7" text-anchor="end" textLength="7.44" lengthAdjust="spacingAndGlyphs" fill="#000" stroke="#000" stroke-width="0.25" >0</text>
<line x1="57.00" y1="814.30" x2="61.00" y2="814.30" stroke="#000" stroke-width="1.1"/>
<text x="52.70" y="818.90" font-size="11.7" text-anchor="end" textLength="7.44" lengthAdjust="spacingAndGlyphs" fill="#000" stroke="#000" stroke-width="0.25" >2</text>
<line x1="57.00" y1="786.00" x2="61.00" y2="786.00" stroke="#000" stroke-width="1.1"/>
<text x="52.70" y="790.60" font-size="11.7" text-anchor="end" textLength="7.44" lengthAdjust="spacingAndGlyphs" fill="#000" stroke="#000" stroke-width="0.25" >4</text>
<line x1="92.10" y1="953.40" x2="92.10" y2="957.40" stroke="#000" stroke-width="1.1"/>
<text x="92.10" y="969.50" font-size="11.7" text-anchor="middle" textLength="7.44" lengthAdjust="spacingAndGlyphs" fill="#000" stroke="#000" stroke-width="0.25" >1</text>
<line x1="141.00" y1="953.40" x2="141.00" y2="957.40" stroke="#000" stroke-width="1.1"/>
<text x="141.00" y="969.50" font-size="11.7" text-anchor="middle" textLength="7.44" lengthAdjust="spacingAndGlyphs" fill="#000" stroke="#000" stroke-width="0.25" >2</text>
<line x1="189.90" y1="953.40" x2="189.90" y2="957.40" stroke="#000" stroke-width="1.1"/>
<text x="189.90" y="969.50" font-size="11.7" text-anchor="middle" textLength="7.44" lengthAdjust="spacingAndGlyphs" fill="#000" stroke="#000" stroke-width="0.25" >3</text>
<line x1="238.80" y1="953.40" x2="238.80" y2="957.40" stroke="#000" stroke-width="1.1"/>
<text x="238.80" y="969.50" font-size="11.7" text-anchor="middle" textLength="7.44" lengthAdjust="spacingAndGlyphs" fill="#000" stroke="#000" stroke-width="0.25" >4</text>
<line x1="287.70" y1="953.40" x2="287.70" y2="957.40" stroke="#000" stroke-width="1.1"/>
<text x="287.70" y="969.50" font-size="11.7" text-anchor="middle" textLength="7.44" lengthAdjust="spacingAndGlyphs" fill="#000" stroke="#000" stroke-width="0.25" >5</text>
<text x="189.85" y="986.80" font-size="14.1" text-anchor="middle" textLength="35.20" lengthAdjust="spacingAndGlyphs" fill="#000" stroke="#000" stroke-width="0.25" >Motif</text>
<text transform="translate(29.00,858.90) rotate(-90)" x="0" y="0" font-size="14.1" text-anchor="middle" textLength="122.41" lengthAdjust="spacingAndGlyphs" stroke="#000" stroke-width="0.25">Model Coefficient</text>
<text x="326.85" y="290.20" font-size="21.74" textLength="17.18" lengthAdjust="spacingAndGlyphs" stroke="#000" stroke-width="0.3">1.</text>
<line x1="372.50" y1="299.60" x2="430.70" y2="299.60" stroke="#000" stroke-width="1.5"/>
<line x1="372.50" y1="299.60" x2="372.50" y2="343.20" stroke="#000" stroke-width="1.5"/>
<polygon points="352.70,299.40 372.50,279.60 392.30,299.40 372.50,319.20" fill="#a54399" stroke="#000" stroke-width="2.0" stroke-linejoin="miter"/>
<line x1="361.70" y1="332.40" x2="383.30" y2="354.00" stroke="#000" stroke-width="1.8"/>
<line x1="361.70" y1="354.00" x2="383.30" y2="332.40" stroke="#000" stroke-width="1.8"/>
<text x="376.05" y="330.30" font-size="14.43" textLength="19.60" lengthAdjust="spacingAndGlyphs" stroke="#000" stroke-width="0.5">8,9</text>
<text x="436.25" y="305.30" font-size="18.33" textLength="9.47" lengthAdjust="spacingAndGlyphs" stroke="#000" stroke-width="0.5">α</text>
<text x="520.05" y="290.00" font-size="21.43" textLength="18.19" lengthAdjust="spacingAndGlyphs" stroke="#000" stroke-width="0.3">2.</text>
<line x1="549.50" y1="324.30" x2="671.60" y2="324.30" stroke="#000" stroke-width="1.5"/>
<circle cx="549.50" cy="324.30" r="13.20" fill="#ffd400" stroke="#000" stroke-width="2.0"/>
<rect x="603.50" y="311.00" width="27.30" height="27.00" fill="#0e8cb9" stroke="#000" stroke-width="2.0"/>
<text x="566.45" y="322.40" font-size="17.36" textLength="7.04" lengthAdjust="spacingAndGlyphs" stroke="#000" stroke-width="0.5">β</text>
<text x="588.85" y="321.40" font-size="16.67" textLength="7.65" lengthAdjust="spacingAndGlyphs" stroke="#000" stroke-width="0.5">4</text>
<text x="674.65" y="329.80" font-size="17.50" textLength="7.64" lengthAdjust="spacingAndGlyphs" stroke="#000" stroke-width="0.5">β</text>
<text x="326.85" y="386.60" font-size="20.14" textLength="17.18" lengthAdjust="spacingAndGlyphs" stroke="#000" stroke-width="0.3">3.</text>
<line x1="369.90" y1="415.20" x2="500.00" y2="415.20" stroke="#000" stroke-width="1.5"/>
<polygon points="350.70,415.50 369.90,396.30 389.10,415.50 369.90,434.70" fill="#a54399" stroke="#000" stroke-width="2.0" stroke-linejoin="miter"/>
<circle cx="439.50" cy="415.30" r="13.20" fill="#ffd400" stroke="#000" stroke-width="2.0"/>
<rect x="496.00" y="401.80" width="27.00" height="27.00" fill="#0e8cb9" stroke="#000" stroke-width="2.0"/>
<text x="391.75" y="414.10" font-size="17.96" textLength="9.07" lengthAdjust="spacingAndGlyphs" stroke="#000" stroke-width="0.5">α</text>
<text x="412.75" y="414.10" font-size="17.57" textLength="8.54" lengthAdjust="spacingAndGlyphs" stroke="#000" stroke-width="0.5">6</text>
<text x="461.65" y="413.80" font-size="17.92" textLength="7.64" lengthAdjust="spacingAndGlyphs" stroke="#000" stroke-width="0.5">β</text>
<text x="481.65" y="414.00" font-size="18.12" textLength="8.64" lengthAdjust="spacingAndGlyphs" stroke="#000" stroke-width="0.5">4</text>
<text x="332.05" y="779.40" font-size="20.87" textLength="16.18" lengthAdjust="spacingAndGlyphs" stroke="#000" stroke-width="0.3">1.</text>
<line x1="384.70" y1="779.00" x2="441.70" y2="779.00" stroke="#000" stroke-width="2.4"/>
<line x1="384.70" y1="779.00" x2="384.70" y2="813.00" stroke="#000" stroke-width="2.4"/>
<line x1="441.70" y1="779.00" x2="441.70" y2="813.00" stroke="#000" stroke-width="2.4"/>
<polygon points="369.30,778.90 384.70,763.50 400.10,778.90 384.70,794.30" fill="#a54399" stroke="#000" stroke-width="2.0" stroke-linejoin="miter"/>
<circle cx="441.70" cy="778.80" r="11.20" fill="#ffd400" stroke="#000" stroke-width="2.0"/>
<line x1="376.10" y1="804.40" x2="393.30" y2="821.60" stroke="#000" stroke-width="2.5"/>
<line x1="376.10" y1="821.60" x2="393.30" y2="804.40" stroke="#000" stroke-width="2.5"/>
<line x1="433.10" y1="804.40" x2="450.30" y2="821.60" stroke="#000" stroke-width="2.5"/>
<line x1="433.10" y1="821.60" x2="450.30" y2="804.40" stroke="#000" stroke-width="2.5"/>
<text x="402.55" y="776.30" font-size="14.44" textLength="7.77" lengthAdjust="spacingAndGlyphs" stroke="#000" stroke-width="0.5">α</text>
<text x="420.85" y="776.50" font-size="15.00" textLength="7.45" lengthAdjust="spacingAndGlyphs" stroke="#000" stroke-width="0.5">3</text>
<text x="389.05" y="803.00" font-size="15.00" textLength="21.30" lengthAdjust="spacingAndGlyphs" stroke="#000" stroke-width="0.5">8,9</text>
<text x="443.75" y="803.00" font-size="15.00" textLength="33.66" lengthAdjust="spacingAndGlyphs" stroke="#000" stroke-width="0.5">2,4,6</text>
<text x="331.25" y="868.40" font-size="21.86" textLength="17.98" lengthAdjust="spacingAndGlyphs" stroke="#000" stroke-width="0.3">2.</text>
<line x1="393.50" y1="867.30" x2="393.50" y2="902.50" stroke="#000" stroke-width="2.4"/>
<polygon points="377.20,867.30 393.50,851.00 409.80,867.30 393.50,883.60" fill="#a54399" stroke="#000" stroke-width="2.0" stroke-linejoin="miter"/>
<line x1="384.30" y1="893.30" x2="402.70" y2="911.70" stroke="#000" stroke-width="2.5"/>
<line x1="384.30" y1="911.70" x2="402.70" y2="893.30" stroke="#000" stroke-width="2.5"/>
<text x="396.95" y="893.30" font-size="16.14" textLength="22.10" lengthAdjust="spacingAndGlyphs" stroke="#000" stroke-width="0.5">8,9</text>
<text x="331.25" y="953.50" font-size="21.43" textLength="17.58" lengthAdjust="spacingAndGlyphs" stroke="#000" stroke-width="0.3">3.</text>
<line x1="385.40" y1="942.70" x2="421.20" y2="942.70" stroke="#000" stroke-width="2.4"/>
<line x1="385.40" y1="942.70" x2="385.40" y2="976.60" stroke="#000" stroke-width="2.4"/>
<circle cx="385.40" cy="942.90" r="11.40" fill="#ffd400" stroke="#000" stroke-width="2.0"/>
<line x1="375.80" y1="967.00" x2="395.00" y2="986.20" stroke="#000" stroke-width="2.5"/>
<line x1="375.80" y1="986.20" x2="395.00" y2="967.00" stroke="#000" stroke-width="2.5"/>
<text x="423.25" y="948.00" font-size="16.81" textLength="8.13" lengthAdjust="spacingAndGlyphs" stroke="#000" stroke-width="0.5">β</text>
<text x="388.55" y="967.00" font-size="14.43" textLength="35.86" lengthAdjust="spacingAndGlyphs" stroke="#000" stroke-width="0.5">2,4,6</text>
<text x="516.95" y="778.60" font-size="22.61" textLength="17.48" lengthAdjust="spacingAndGlyphs" stroke="#000" stroke-width="0.3">4.</text>
<line x1="574.80" y1="784.20" x2="659.30" y2="784.20" stroke="#000" stroke-width="2.4"/>
<rect x="549.60" y="772.00" width="24.80" height="24.80" fill="#0e8cb9" stroke="#000" stroke-width="2.0"/>
<rect x="610.80" y="771.60" width="25.50" height="25.50" fill="#0e8cb9" stroke="#000" stroke-width="2.0"/>
<text x="580.75" y="782.30" font-size="14.86" textLength="8.03" lengthAdjust="spacingAndGlyphs" stroke="#000" stroke-width="0.5">β</text>
<text x="598.85" y="783.00" font-size="15.36" textLength="8.34" lengthAdjust="spacingAndGlyphs" stroke="#000" stroke-width="0.5">4</text>
<text x="662.25" y="788.60" font-size="15.83" textLength="24.02" lengthAdjust="spacingAndGlyphs" stroke="#000" stroke-width="0.5">α/β</text>
<text x="517.85" y="897.00" font-size="22.32" textLength="17.08" lengthAdjust="spacingAndGlyphs" stroke="#000" stroke-width="0.3">5.</text>
<line x1="563.50" y1="897.30" x2="563.50" y2="937.00" stroke="#000" stroke-width="2.4"/>
<circle cx="563.50" cy="897.30" r="13.30" fill="#ffd400" stroke="#000" stroke-width="2.0"/>
<line x1="553.50" y1="927.00" x2="573.50" y2="947.00" stroke="#000" stroke-width="2.5"/>
<line x1="553.50" y1="947.00" x2="573.50" y2="927.00" stroke="#000" stroke-width="2.5"/>
<text x="566.45" y="924.90" font-size="16.29" textLength="50.76" lengthAdjust="spacingAndGlyphs" stroke="#000" stroke-width="0.5">2,3,4,6</text>
</svg>
</body></html>
